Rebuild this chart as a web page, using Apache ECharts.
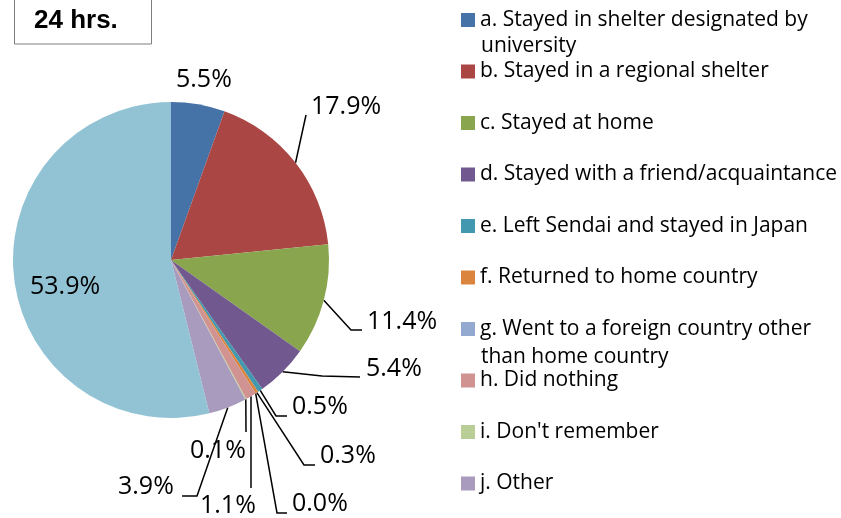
<!DOCTYPE html>
<html>
<head>
<meta charset="utf-8">
<script src="https://cdn.jsdelivr.net/npm/echarts@6/dist/echarts.min.js"></script>
<style>
  html, body { margin: 0; padding: 0; background: #fff; }
  #chart { width: 841px; height: 518px; }
</style>
</head>
<body>
<div id="chart"></div>
<script>
// categories, first line of legend text and the wrapped second line
const categories = [
  "a. Stayed in shelter designated by university",
  "b. Stayed in a regional shelter",
  "c. Stayed at home",
  "d. Stayed with a friend/acquaintance",
  "e. Left Sendai and stayed in Japan",
  "f. Returned to home country",
  "g. Went to a foreign country other than home country",
  "h. Did nothing",
  "i. Don't remember",
  "j. Other",
  "k. No answer"
];
const legendFirst = {
  "a. Stayed in shelter designated by university": "a. Stayed in shelter designated by",
  "g. Went to a foreign country other than home country": "g. Went to a foreign country other"
};
const percents = [5.5, 17.9, 11.4, 5.4, 0.5, 0.3, 0.0, 1.1, 0.1, 3.9, 53.9];
const colors = ["#4572A7", "#AA4643", "#89A54E", "#71588F", "#4198AF", "#DB843D",
                "#93A9CF", "#D19392", "#B9CD96", "#A99BBD", "#92C3D4"];

// where each percent label sits (left, middle) and its leader line bends
const labelSpots = [
  { x: 176, y: 80 },
  { x: 311, y: 107, line: [[306, 115], [306, 115]] },
  { x: 367, y: 322, line: [[351, 330], [362, 330]] },
  { x: 366, y: 369, line: [[322, 376], [360, 377]] },
  { x: 292, y: 407, line: [[276, 416], [287, 416]] },
  { x: 320, y: 456, line: [[304, 465], [315, 465]] },
  { x: 292, y: 504, line: [[277, 513], [287, 513]] },
  { x: 200, y: 506, line: [[251, 488], [251, 488]] },
  { x: 190, y: 451, line: [[246, 432], [246, 432]] },
  { x: 118, y: 487, line: [[197, 496], [182, 496]] },
  { x: 30, y: 287 }
];

let myChart = echarts.init(document.getElementById("chart"));
let pieData = categories.map(function (name, i) {
  return {
    name: name,
    value: percents[i],
    itemStyle: { color: colors[i] },
    labelLine: { show: !!labelSpots[i].line }
  };
});

let option = {
  animation: false,
  color: colors,
  legend: {
    data: categories.slice(0, 10),
    orient: "vertical",
    left: 461,
    top: 8,
    padding: 0,
    itemWidth: 14,
    itemHeight: 14,
    itemGap: 27.5,
    icon: "rect",
    formatter: function (name) {
      return legendFirst[name] || name;
    },
    textStyle: { fontFamily: "Open Sans", fontSize: 21, lineHeight: 24, color: "#000" }
  },
  graphic: [
    { type: "rect", shape: { x: 14.5, y: -2, width: 137, height: 46 },
      style: { fill: "#fff", stroke: "#7f7f7f", lineWidth: 1 } },
    { type: "text", style: { text: "24 hrs.", x: 34, y: 21, verticalAlign: "middle",
      font: "bold 26px 'Liberation Sans', Arial", fill: "#000" } },
    { type: "text", style: { text: "university", x: 481, y: 46, verticalAlign: "middle",
      font: "21px 'Open Sans'", fill: "#000" } },
    { type: "text", style: { text: "than home country", x: 481, y: 357, verticalAlign: "middle",
      font: "21px 'Open Sans'", fill: "#000" } }
  ],
  series: [
    {
      type: "pie",
      center: [171, 260],
      radius: 158,
      startAngle: 90,
      clockwise: true,
      avoidLabelOverlap: false,
      data: pieData,
      label: {
        show: true,
        position: "outside",
        formatter: function (p) { return p.value.toFixed(1) + "%"; },
        fontFamily: "Open Sans",
        fontSize: 25,
        color: "#000"
      },
      labelLine: {
        show: true,
        length: 10,
        length2: 10,
        lineStyle: { color: "#000", width: 1.5 }
      },
      labelLayout: function (params) {
        let spot = labelSpots[params.dataIndex];
        let res = { x: spot.x, y: spot.y, align: "left", verticalAlign: "middle" };
        if (spot.line && params.labelLinePoints) {
          res.labelLinePoints = [params.labelLinePoints[0], spot.line[0], spot.line[1]];
        }
        return res;
      },
      emphasis: { disabled: true }
    }
  ]
};
myChart.setOption(option);
</script>
</body>
</html>
